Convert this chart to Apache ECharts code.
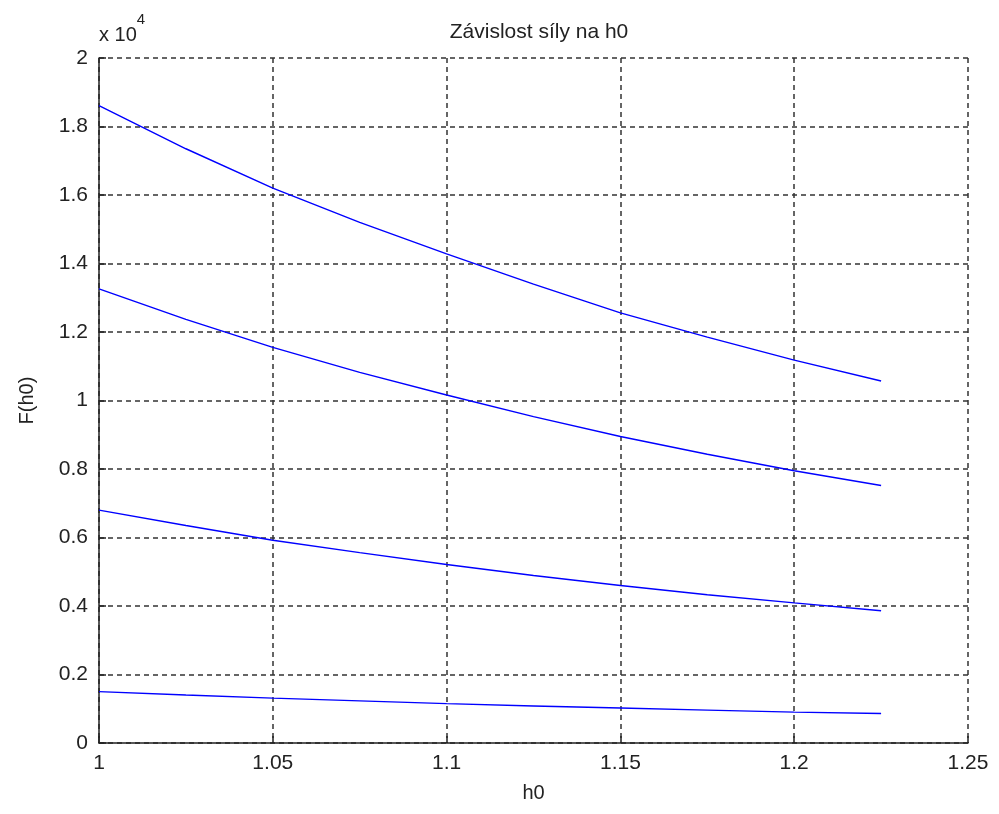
<!DOCTYPE html>
<html>
<head>
<meta charset="utf-8">
<script src="https://cdn.jsdelivr.net/npm/echarts@6/dist/echarts.min.js"></script>
<style>
  html, body { margin: 0; padding: 0; background: #fff; }
  #chart { width: 999px; height: 814px; }
</style>
</head>
<body>
<div id="chart"></div>
<script>
// h0 values and forces (F in units of 10^4)
var h0 = [1, 1.025, 1.05, 1.075, 1.1, 1.125, 1.15, 1.175, 1.2, 1.225];
var force1 = [1.861, 1.735, 1.620, 1.520, 1.428, 1.340, 1.256, 1.185, 1.118, 1.057];
var force2 = [1.326, 1.237, 1.155, 1.082, 1.016, 0.953, 0.895, 0.843, 0.795, 0.752];
var force3 = [0.680, 0.635, 0.592, 0.556, 0.521, 0.489, 0.460, 0.433, 0.409, 0.386];
var force4 = [0.150, 0.140, 0.131, 0.123, 0.115, 0.108, 0.102, 0.096, 0.090, 0.086];

var titleText = 'Závislost síly na h0';
var xName = 'h0';
var yName = 'F(h0)';

var font = 'Liberation Sans, Arial, sans-serif';
var gridLine = { show: true, lineStyle: { color: '#333', type: [5, 4], width: 1.5 } };

function pairs(ys) {
  return h0.map(function (x, i) { return [x, ys[i]]; });
}

function lineSeries(ys) {
  return {
    type: 'line',
    data: pairs(ys),
    showSymbol: false,
    smooth: false,
    lineStyle: { color: '#0000ff', width: 1.4 },
    animation: false
  };
}

var chart = echarts.init(document.getElementById('chart'));
var option = {
  backgroundColor: '#fff',
  animation: false,
  title: {
    text: titleText,
    left: 534,
    top: 17,
    textAlign: 'center',
    textStyle: { fontFamily: font, fontSize: 21, fontWeight: 'normal', color: '#222' }
  },
  grid: { left: 99, right: 31, top: 58, bottom: 71 },
  xAxis: {
    type: 'value',
    min: 1,
    max: 1.25,
    interval: 0.05,
    name: xName,
    nameLocation: 'middle',
    nameGap: 40,
    nameTextStyle: { fontFamily: font, fontSize: 20, color: '#222' },
    axisLine: { show: true, lineStyle: { color: '#222', width: 1.5 } },
    axisTick: { show: true, inside: true, length: 7, lineStyle: { color: '#222', width: 1.5 } },
    axisLabel: { fontFamily: font, fontSize: 21, color: '#222', margin: 10 },
    splitLine: gridLine
  },
  yAxis: {
    type: 'value',
    min: 0,
    max: 2,
    interval: 0.2,
    name: yName,
    nameLocation: 'middle',
    nameGap: 62,
    nameTextStyle: { fontFamily: font, fontSize: 20, color: '#222' },
    axisLine: { show: true, lineStyle: { color: '#222', width: 1.5 } },
    axisTick: { show: true, inside: true, length: 7, lineStyle: { color: '#222', width: 1.5 } },
    axisLabel: {
      fontFamily: font, fontSize: 21, color: '#222', margin: 11,
      formatter: function (v) { return String(Math.round(v * 10) / 10); }
    },
    splitLine: gridLine
  },
  graphic: [{
    type: 'text',
    left: 99,
    top: 12,
    style: {
      text: '{a|x 10}{b|4}',
      rich: {
        a: { fontFamily: font, fontSize: 20, fill: '#222', verticalAlign: 'bottom', padding: [13, 0, 0, 0] },
        b: { fontFamily: font, fontSize: 15, fill: '#222', verticalAlign: 'top' }
      }
    }
  }],
  series: [lineSeries(force1), lineSeries(force2), lineSeries(force3), lineSeries(force4)]
};
chart.setOption(option);
</script>
</body>
</html>
